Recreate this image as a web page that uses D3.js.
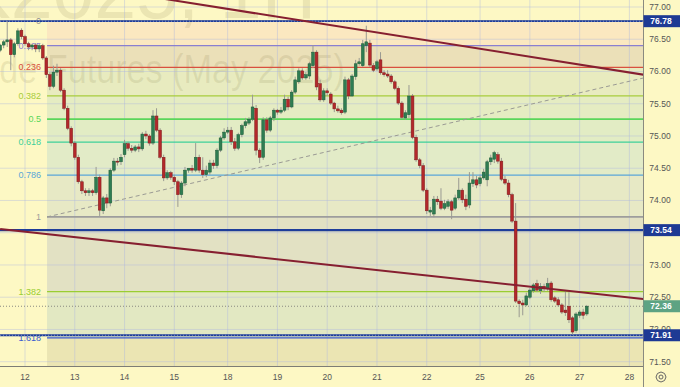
<!DOCTYPE html>
<html>
<head>
<meta charset="utf-8">
<script src="https://cdnjs.cloudflare.com/ajax/libs/d3/7.8.5/d3.min.js"></script>
<style>
  body { margin: 0; background: #fdf8c4; }
  svg { display: block; font-family: "Liberation Sans", Arial, sans-serif; }
</style>
</head>
<body>
<div id="chart-area"></div>
<script>
const WIDTH = 680
const HEIGHT = 387
const PANE = { RIGHT: 643, BOTTOM: 366 }

// hourly candles, [open, high, low, close]
const bars = [
  [76.33, 76.43, 76.30, 76.41], [76.41, 76.49, 76.36, 76.46], [76.46, 76.78, 76.38, 76.49], [76.49, 76.52, 76.02, 76.26],
  [76.26, 76.46, 76.22, 76.43], [76.43, 76.67, 76.40, 76.63], [76.64, 76.67, 76.50, 76.54], [76.54, 76.57, 76.40, 76.43],
  [76.43, 76.46, 76.33, 76.38], [76.38, 76.43, 76.33, 76.41], [76.41, 76.44, 76.30, 76.35], [76.35, 76.43, 76.30, 76.40],
  [76.40, 76.43, 76.18, 76.21], [76.21, 76.24, 75.90, 75.95], [75.95, 75.99, 75.71, 75.77], [75.77, 76.09, 75.74, 75.99],
  [75.99, 76.12, 75.93, 76.02], [76.02, 76.05, 75.68, 75.71], [75.71, 75.74, 75.40, 75.43], [75.43, 75.47, 75.09, 75.12],
  [75.12, 75.15, 74.84, 74.89], [74.89, 74.92, 74.63, 74.67], [74.67, 74.71, 74.26, 74.29], [74.29, 74.32, 74.10, 74.15],
  [74.15, 74.19, 74.07, 74.12], [74.12, 74.19, 74.07, 74.15], [74.15, 74.18, 74.07, 74.12], [74.12, 74.52, 74.09, 74.36],
  [74.36, 74.40, 73.76, 73.85], [73.84, 74.07, 73.79, 74.04], [74.04, 74.10, 73.88, 73.96], [73.96, 74.50, 73.91, 74.47],
  [74.47, 74.66, 74.44, 74.61], [74.61, 74.66, 74.54, 74.60], [74.60, 74.72, 74.55, 74.67], [74.71, 74.94, 74.67, 74.88],
  [74.88, 74.91, 74.77, 74.81], [74.81, 74.86, 74.74, 74.78], [74.78, 74.86, 74.75, 74.83], [74.83, 74.88, 74.75, 74.80],
  [74.80, 75.06, 74.77, 75.03], [75.03, 75.08, 74.95, 75.00], [75.00, 75.03, 74.85, 74.89], [74.89, 75.40, 74.86, 75.31],
  [75.31, 75.43, 75.06, 75.09], [75.09, 75.12, 74.64, 74.67], [74.67, 74.71, 74.30, 74.35], [74.35, 74.47, 74.32, 74.43],
  [74.43, 74.46, 74.32, 74.36], [74.36, 74.40, 74.24, 74.29], [74.29, 74.32, 73.90, 74.09], [74.09, 74.30, 74.04, 74.27],
  [74.27, 74.52, 74.22, 74.47], [74.47, 74.50, 74.43, 74.50], [74.50, 74.55, 74.43, 74.47], [74.47, 74.89, 74.44, 74.67],
  [74.67, 74.71, 74.43, 74.47], [74.47, 74.67, 74.35, 74.40], [74.40, 74.54, 74.36, 74.47], [74.44, 74.63, 74.40, 74.58],
  [74.58, 74.63, 74.49, 74.54], [74.54, 74.81, 74.50, 74.78], [74.78, 75.00, 74.75, 74.97], [74.97, 75.12, 74.94, 75.06],
  [75.06, 75.14, 75.03, 75.09], [75.09, 75.14, 74.86, 74.91], [74.91, 74.97, 74.77, 74.81], [74.81, 75.05, 74.78, 75.02],
  [75.02, 75.19, 74.98, 75.16], [75.16, 75.28, 75.12, 75.22], [75.20, 75.29, 75.17, 75.26], [75.26, 75.64, 75.23, 75.45],
  [75.43, 75.48, 74.70, 74.78], [74.78, 74.81, 74.58, 74.67], [74.67, 75.29, 74.63, 75.25], [75.25, 75.29, 75.05, 75.09],
  [75.09, 75.31, 75.06, 75.28], [75.28, 75.43, 75.23, 75.40], [75.40, 75.42, 75.33, 75.37], [75.37, 75.45, 75.34, 75.40],
  [75.40, 75.64, 75.37, 75.57], [75.57, 75.61, 75.40, 75.45], [75.45, 75.71, 75.43, 75.68], [75.68, 75.92, 75.65, 75.87],
  [75.84, 76.05, 75.81, 76.01], [76.01, 76.05, 75.87, 75.90], [75.90, 75.99, 75.87, 75.95], [75.93, 76.15, 75.88, 76.12],
  [76.09, 76.41, 76.05, 76.30], [76.30, 76.33, 75.71, 75.76], [75.81, 75.87, 75.53, 75.56], [75.56, 75.74, 75.53, 75.70],
  [75.70, 75.74, 75.62, 75.67], [75.65, 75.68, 75.48, 75.51], [75.51, 75.53, 75.37, 75.42], [75.42, 75.47, 75.36, 75.39],
  [75.40, 75.43, 75.33, 75.36], [75.37, 75.92, 75.34, 75.87], [75.87, 75.90, 75.57, 75.62], [75.62, 75.96, 75.61, 75.93],
  [75.92, 76.18, 75.87, 76.12], [76.12, 76.21, 76.09, 76.15], [76.09, 76.49, 76.07, 76.43], [76.40, 76.71, 76.30, 76.46],
  [76.44, 76.49, 76.07, 76.10], [76.09, 76.13, 75.99, 76.02], [76.04, 76.18, 76.01, 76.15], [76.18, 76.30, 75.95, 75.98],
  [75.98, 76.02, 75.92, 75.95], [75.96, 76.02, 75.90, 75.93], [75.93, 75.96, 75.81, 75.84], [75.84, 75.87, 75.71, 75.74],
  [75.74, 75.77, 75.48, 75.51], [75.51, 75.54, 75.26, 75.29], [75.28, 75.40, 75.25, 75.36], [75.33, 75.79, 75.28, 75.62],
  [75.62, 75.65, 74.95, 74.98], [74.98, 75.02, 74.60, 74.63], [74.63, 74.66, 74.50, 74.54], [74.54, 74.58, 74.13, 74.16],
  [74.16, 74.19, 73.79, 73.84], [73.82, 73.90, 73.76, 73.85], [73.79, 74.07, 73.74, 74.02], [74.02, 74.07, 73.93, 73.98],
  [73.99, 74.19, 73.85, 73.88], [73.88, 74.01, 73.85, 73.95], [73.91, 74.02, 73.87, 73.98], [73.98, 74.01, 73.71, 73.85],
  [73.88, 74.09, 73.85, 74.04], [74.04, 74.35, 74.01, 74.16], [74.16, 74.19, 73.96, 74.01], [74.02, 74.09, 73.85, 73.91],
  [73.93, 74.44, 73.88, 74.27], [74.26, 74.44, 74.21, 74.32], [74.32, 74.38, 74.19, 74.24], [74.26, 74.40, 74.22, 74.35],
  [74.35, 74.49, 74.32, 74.44], [74.32, 74.63, 74.22, 74.60], [74.60, 74.71, 74.55, 74.66], [74.64, 74.77, 74.58, 74.74],
  [74.71, 74.75, 74.57, 74.61], [74.61, 74.66, 74.30, 74.33], [74.33, 74.38, 74.24, 74.27], [74.27, 74.32, 74.05, 74.09],
  [74.09, 74.12, 73.65, 73.68], [73.68, 73.96, 72.41, 72.44], [72.44, 72.47, 72.19, 72.40], [72.41, 72.46, 72.22, 72.38],
  [72.38, 72.57, 72.36, 72.52], [72.50, 72.64, 72.47, 72.61], [72.60, 72.72, 72.57, 72.69], [72.71, 72.77, 72.58, 72.61],
  [72.60, 72.72, 72.55, 72.67], [72.67, 72.71, 72.58, 72.63], [72.63, 72.80, 72.60, 72.71], [72.72, 72.75, 72.43, 72.46],
  [72.49, 72.52, 72.41, 72.44], [72.46, 72.50, 72.35, 72.38], [72.38, 72.41, 72.24, 72.27], [72.30, 72.61, 72.21, 72.26],
  [72.36, 72.58, 72.10, 72.15], [72.18, 72.21, 71.92, 71.96], [71.98, 72.27, 71.95, 72.24], [72.22, 72.30, 72.18, 72.27],
  [72.27, 72.32, 72.16, 72.22], [72.24, 72.38, 72.21, 72.36]
]

// day labels and the bar index where each day starts
const dayLabels = ["12", "13", "14", "15", "18", "19", "20", "21", "22", "25", "26", "27", "28"]
const dayStarts = [7, 21, 35, 49, 64, 78, 92, 106, 120, 135, 149, 163, 177]
const priceTicks = [71.5, 72, 72.5, 73, 73.5, 74, 74.5, 75, 75.5, 76, 76.5, 77]

// fibonacci retracement (2.618 only bounds the lowest band, it is off screen)
const fibHigh = 76.78
const fibLow = 73.745
const fibStartBar = 13.2
const fibLevels = [0, 0.125, 0.236, 0.382, 0.5, 0.618, 0.786, 1, 1.382, 1.618, 2.618]
const fibLabels = ["0", "0.125", "0.236", "0.382", "0.5", "0.618", "0.786", "1", "1.382", "1.618", ""]
const fibColors = ["#8f8f8f", "#8a7fd0", "#d9503f", "#a8cc3c", "#5ad65a", "#3ccf9a", "#5aa6d8", "#9d9d9d", "#9acd32", "#3a5bd0", "#d9503f"]
const fibFills = ["#fbe8c0", "#ebe0b8", "#e8ebbf", "#e5ecc2", "#e2ecc4", "#e2ebc7", "#e7e9c5", "#e2e1c3", "#e2e8c2", "#ebe5b3"]

// horizontal price lines and the last price
const hLines = [76.78, 73.54, 71.91]
const lastPrice = 72.36

// trend lines, [bar index, price]
const trendA = [[40, 77.18], [181, 75.95]]
const trendB = [[0, 73.558], [181, 72.47]]
const fibDiag = [[13.2, 73.745], [181, 75.9]]

const svg = d3.select("#chart-area").append("svg")
  .attr("width", WIDTH)
  .attr("height", HEIGHT)

const x = d3.scaleLinear().domain([7, 177]).range([25, 629.4])
const y = d3.scaleLinear().domain([71.5, 77]).range([361.7, 7])
const fibPrice = l => fibHigh - l * (fibHigh - fibLow)

svg.append("defs").append("clipPath").attr("id", "pane")
  .append("rect").attr("width", PANE.RIGHT).attr("height", PANE.BOTTOM)

svg.append("rect").attr("width", WIDTH).attr("height", HEIGHT).attr("fill", "#fdf8c4")

const pane = svg.append("g").attr("clip-path", "url(#pane)")

// fib bands
const x0 = x(fibStartBar)
pane.selectAll(".band")
  .data(fibFills)
  .enter().append("rect")
  .attr("x", x0)
  .attr("width", PANE.RIGHT - x0)
  .attr("y", (d, i) => y(fibPrice(fibLevels[i])))
  .attr("height", (d, i) => y(fibPrice(fibLevels[i + 1])) - y(fibPrice(fibLevels[i])))
  .attr("fill", d => d)

// watermark
const wm = pane.append("g").attr("fill", "rgba(110,100,50,0.12)")
wm.append("text")
  .attr("x", -144).attr("y", 18)
  .attr("font-size", 80)
  .attr("textLength", 460).attr("lengthAdjust", "spacingAndGlyphs")
  .text("BRK2025, 1H")
wm.append("text")
  .attr("x", 345).attr("y", 83)
  .attr("text-anchor", "end")
  .attr("font-size", 40)
  .attr("textLength", 492).attr("lengthAdjust", "spacingAndGlyphs")
  .text("Brent Crude Futures (May 2025)")

// grid
pane.selectAll(".vgrid")
  .data(dayStarts)
  .enter().append("line")
  .attr("x1", d => x(d)).attr("x2", d => x(d))
  .attr("y1", 0).attr("y2", PANE.BOTTOM)
  .attr("stroke", "rgba(170,180,225,0.4)")
pane.selectAll(".hgrid")
  .data(priceTicks)
  .enter().append("line")
  .attr("x1", 0).attr("x2", PANE.RIGHT)
  .attr("y1", d => y(d)).attr("y2", d => y(d))
  .attr("stroke", "rgba(170,180,225,0.4)")

// fib lines and labels
pane.selectAll(".fibline")
  .data(fibLevels)
  .enter().append("line")
  .attr("x1", x0).attr("x2", PANE.RIGHT)
  .attr("y1", d => y(fibPrice(d))).attr("y2", d => y(fibPrice(d)))
  .attr("stroke", (d, i) => fibColors[i])
  .attr("stroke-width", d => (d === 0.5 || d === 1) ? 1.8 : 1.2)

pane.selectAll(".fiblabel")
  .data(fibLevels.filter((d, i) => fibLabels[i] !== ""))
  .enter().append("text")
  .attr("x", x0 - 6)
  .attr("y", d => y(fibPrice(d)) + 3)
  .attr("text-anchor", "end")
  .attr("font-size", 9)
  .attr("fill", (d, i) => fibColors[i])
  .text((d, i) => fibLabels[i])

const line = d3.line().x(d => x(d[0])).y(d => y(d[1]))

pane.append("path")
  .attr("d", line(fibDiag))
  .attr("fill", "none")
  .attr("stroke", "#9a9a94")
  .attr("stroke-dasharray", "4,3")

// horizontal lines
pane.selectAll(".hline")
  .data(hLines)
  .enter().append("line")
  .attr("x1", 0).attr("x2", PANE.RIGHT)
  .attr("y1", d => y(d)).attr("y2", d => y(d))
  .attr("stroke", "#1e3d9a")
  .attr("stroke-width", (d, i) => i === 1 ? 2.2 : 1.8)
pane.selectAll(".hdots")
  .data([hLines[0], hLines[2]])
  .enter().append("line")
  .attr("x1", 0).attr("x2", PANE.RIGHT)
  .attr("y1", d => y(d)).attr("y2", d => y(d))
  .attr("stroke", "#a9b3d8")
  .attr("stroke-width", 0.7)
  .attr("stroke-dasharray", "1,2")

pane.append("line")
  .attr("x1", 0).attr("x2", PANE.RIGHT)
  .attr("y1", y(lastPrice)).attr("y2", y(lastPrice))
  .attr("stroke", "#8a8a80")
  .attr("stroke-dasharray", "1,2")

// candles
const candles = pane.selectAll(".candle")
  .data(bars)
  .enter().append("g")
candles.append("line")
  .attr("x1", (d, i) => x(i)).attr("x2", (d, i) => x(i))
  .attr("y1", d => y(d[1])).attr("y2", d => y(d[2]))
  .attr("stroke", "#9a9a92")
candles.append("rect")
  .attr("x", (d, i) => x(i) - 1.4)
  .attr("width", 2.8)
  .attr("y", d => y(Math.max(d[0], d[3])))
  .attr("height", d => Math.max(1, Math.abs(y(d[0]) - y(d[3]))))
  .attr("fill", d => d[3] >= d[0] ? "#2f7d52" : "#b3282b")
  .attr("stroke", d => d[3] >= d[0] ? "#1d5a38" : "#7c1a1d")
  .attr("stroke-width", 0.5)

// trend lines
pane.selectAll(".trend")
  .data([trendA, trendB])
  .enter().append("path")
  .attr("d", d => line(d))
  .attr("fill", "none")
  .attr("stroke", "#861f30")
  .attr("stroke-width", 2)

// axes
svg.append("line")
  .attr("x1", PANE.RIGHT + 0.5).attr("x2", PANE.RIGHT + 0.5)
  .attr("y1", 0).attr("y2", HEIGHT)
  .attr("stroke", "#8a8a80")
svg.append("line")
  .attr("x1", 0).attr("x2", PANE.RIGHT)
  .attr("y1", PANE.BOTTOM + 0.5).attr("y2", PANE.BOTTOM + 0.5)
  .attr("stroke", "#7d7d75")

svg.selectAll(".ptick")
  .data(priceTicks)
  .enter().append("text")
  .attr("x", 660)
  .attr("y", d => y(d) + 3)
  .attr("text-anchor", "middle")
  .attr("font-size", 8.5)
  .attr("fill", "#555")
  .text(d => d.toFixed(2))

svg.selectAll(".dtick")
  .data(dayStarts)
  .enter().append("text")
  .attr("x", d => x(d))
  .attr("y", 380)
  .attr("text-anchor", "middle")
  .attr("font-size", 8.5)
  .attr("fill", "#555")
  .text((d, i) => dayLabels[i])

// price tags
const tags = svg.selectAll(".tag")
  .data([hLines[0], hLines[1], lastPrice, hLines[2]])
  .enter().append("g")
tags.append("rect")
  .attr("x", PANE.RIGHT + 0.5)
  .attr("y", d => y(d) - 6)
  .attr("width", WIDTH - PANE.RIGHT)
  .attr("height", 12)
  .attr("fill", d => d === lastPrice ? "#5da383" : "#1e3a94")
tags.append("text")
  .attr("x", 661)
  .attr("y", d => y(d) + 3)
  .attr("text-anchor", "middle")
  .attr("font-size", 8.5)
  .attr("font-weight", "bold")
  .attr("fill", "#fff")
  .text(d => d.toFixed(2))

// settings icon
const gear = svg.append("g").attr("transform", "translate(661,377)")
  .attr("fill", "none").attr("stroke", "#666")
gear.append("path")
  .attr("d", d3.range(8).map((k, i) => {
    const a = i * Math.PI / 4
    return (i ? "L" : "M") + (5 * Math.cos(a)).toFixed(2) + "," + (5 * Math.sin(a)).toFixed(2)
  }).join("") + "Z")
gear.append("circle").attr("r", 2)
</script>
</body>
</html>
